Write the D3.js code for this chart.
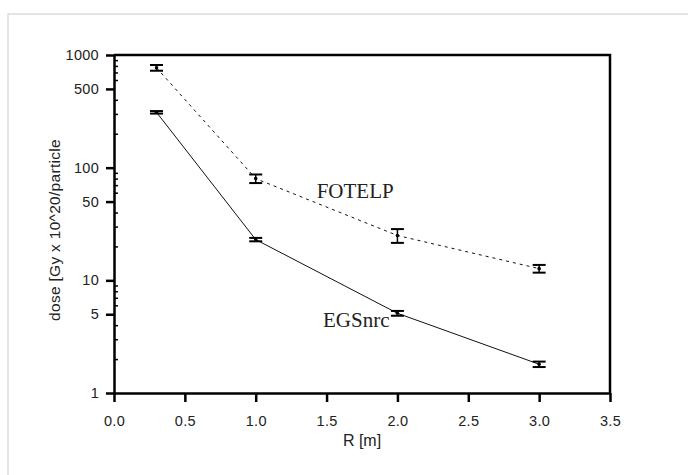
<!DOCTYPE html>
<html>
<head>
<meta charset="utf-8">
<script src="https://cdn.jsdelivr.net/npm/d3@7"></script>
<style>
    body { margin: 0; background: #fff; }
    svg { display: block; }
</style>
</head>
<body>
<div id="chart"></div>
<script>
// data
var radius = [0.3, 1.0, 2.0, 3.0];
var fotelp = [770, 80, 25, 12.7];
var fotelpErr = [45, 7, 3.5, 1.0];
var egsnrc = [310, 23, 5.1, 1.8];
var egsnrcErr = [8, 0.8, 0.25, 0.1];

var xTicks = [0, 0.5, 1.0, 1.5, 2.0, 2.5, 3.0, 3.5];
var yTicks = [1, 5, 10, 50, 100, 500, 1000];

// series labels, placed in data units
var seriesNames = ["FOTELP", "EGSnrc"];
var labelX = [1.43, 1.475];
var labelY = [54, 3.85];

var margin = { top: 55, right: 78, bottom: 82, left: 114 };
var canvas = { screenWidth: 688, screenHeight: 475, chartWidth: 0, chartHeight: 0 };
canvas.chartWidth = canvas.screenWidth - margin.left - margin.right;
canvas.chartHeight = canvas.screenHeight - margin.top - margin.bottom;

var svg = d3.select("#chart").append("svg")
    .attr("width", canvas.screenWidth)
    .attr("height", canvas.screenHeight);

// light grey frame of the screenshot
svg.append("path")
    .attr("d", "M8,475 V14 H688")
    .attr("fill", "none")
    .attr("stroke", "#dcdcdc")
    .attr("stroke-width", 1.5);

var chartGroup = svg.append("g")
    .attr("transform", `translate(${margin.left}, ${margin.top})`);

var xScale = d3.scaleLinear()
    .domain([0, 3.5])
    .range([0, canvas.chartWidth]);

var yScale = d3.scaleLog()
    .domain([1, 1000])
    .range([canvas.chartHeight, 0]);

// minor ticks 2..9 per decade, not labelled
var minorTicks = [];
[1, 10, 100].forEach(function (d) {
    for (var k = 2; k <= 9; k++) {
        if (k !== 5) minorTicks.push(d * k);
    }
});

var fontSans = "'Liberation Sans', Arial, sans-serif";

// top and right frame
chartGroup.append("path")
    .attr("d", `M0,0 H${canvas.chartWidth} V${canvas.chartHeight}`)
    .attr("fill", "none")
    .attr("stroke", "#000")
    .attr("stroke-width", 2.5);

// y axis minor ticks (inside)
chartGroup.append("g")
    .attr("class", "minor")
    .call(d3.axisLeft(yScale).tickValues(minorTicks).tickSize(-4).tickFormat(""))
    .call(g => g.select(".domain").remove())
    .call(g => g.selectAll("line").attr("stroke-width", 1.5));

// y axis
chartGroup.append("g")
    .call(d3.axisLeft(yScale)
        .tickValues(yTicks)
        .tickSize(8)
        .tickSizeOuter(0)
        .tickPadding(7)
        .tickFormat(d3.format("d")))
    .call(g => g.select(".domain").attr("stroke-width", 2.5))
    .call(g => g.selectAll("line").attr("stroke-width", 2.5))
    .call(g => g.selectAll("text")
        .attr("font-family", fontSans)
        .attr("font-size", 14.5)
        .attr("letter-spacing", 0.3)
        .attr("fill", "#222"));

// x axis
chartGroup.append("g")
    .attr("transform", `translate(0, ${canvas.chartHeight})`)
    .call(d3.axisBottom(xScale)
        .tickValues(xTicks)
        .tickSize(9)
        .tickSizeOuter(0)
        .tickPadding(14)
        .tickFormat(d3.format(".1f")))
    .call(g => g.select(".domain").attr("stroke-width", 2.5))
    .call(g => g.selectAll("line").attr("stroke-width", 2.5))
    .call(g => g.selectAll("text")
        .attr("font-family", fontSans)
        .attr("font-size", 14.5)
        .attr("letter-spacing", 0.3)
        .attr("fill", "#222"));

// axis titles
chartGroup.append("text")
    .attr("text-anchor", "middle")
    .attr("x", canvas.chartWidth / 2)
    .attr("y", canvas.chartHeight + 53)
    .attr("font-family", fontSans)
    .attr("font-size", 16)
    .attr("fill", "#222")
    .text("R [m]");

chartGroup.append("text")
    .attr("text-anchor", "middle")
    .attr("transform", "rotate(-90)")
    .attr("x", -canvas.chartHeight / 2 - 6)
    .attr("y", -margin.left + 60)
    .attr("font-family", fontSans)
    .attr("font-size", 15.5)
    .attr("letter-spacing", 0.3)
    .attr("fill", "#222")
    .text("dose [Gy x 10^20/particle");

// series
var series = [
    { name: seriesNames[0], values: fotelp, err: fotelpErr, dash: "3,4" },
    { name: seriesNames[1], values: egsnrc, err: egsnrcErr, dash: null }
];

var line = d3.line()
    .x(d => xScale(d.x))
    .y(d => yScale(d.y));

series.forEach(function (s, i) {
    var pts = radius.map(function (r, j) {
        return { x: r, y: s.values[j], e: s.err[j] };
    });

    chartGroup.append("path")
        .datum(pts)
        .attr("d", line)
        .attr("fill", "none")
        .attr("stroke", "#111")
        .attr("stroke-width", 1)
        .attr("stroke-dasharray", s.dash);

    var bars = chartGroup.append("g").selectAll("g")
        .data(pts)
        .enter()
        .append("g");

    bars.append("line")
        .attr("x1", d => xScale(d.x))
        .attr("x2", d => xScale(d.x))
        .attr("y1", d => yScale(d.y + d.e))
        .attr("y2", d => yScale(d.y - d.e))
        .attr("stroke", "#000")
        .attr("stroke-width", 1.5);

    [1, -1].forEach(function (sign) {
        bars.append("line")
            .attr("x1", d => xScale(d.x) - 6.5)
            .attr("x2", d => xScale(d.x) + 6.5)
            .attr("y1", d => yScale(d.y + sign * d.e))
            .attr("y2", d => yScale(d.y + sign * d.e))
            .attr("stroke", "#000")
            .attr("stroke-width", 2);
    });

    bars.append("circle")
        .attr("cx", d => xScale(d.x))
        .attr("cy", d => yScale(d.y))
        .attr("r", 1.8)
        .attr("fill", "#000");

    chartGroup.append("text")
        .attr("x", xScale(labelX[i]))
        .attr("y", yScale(labelY[i]))
        .attr("font-family", "'Liberation Serif', 'Times New Roman', serif")
        .attr("font-size", 21)
        .attr("fill", "#222")
        .text(s.name);
});
</script>
</body>
</html>
